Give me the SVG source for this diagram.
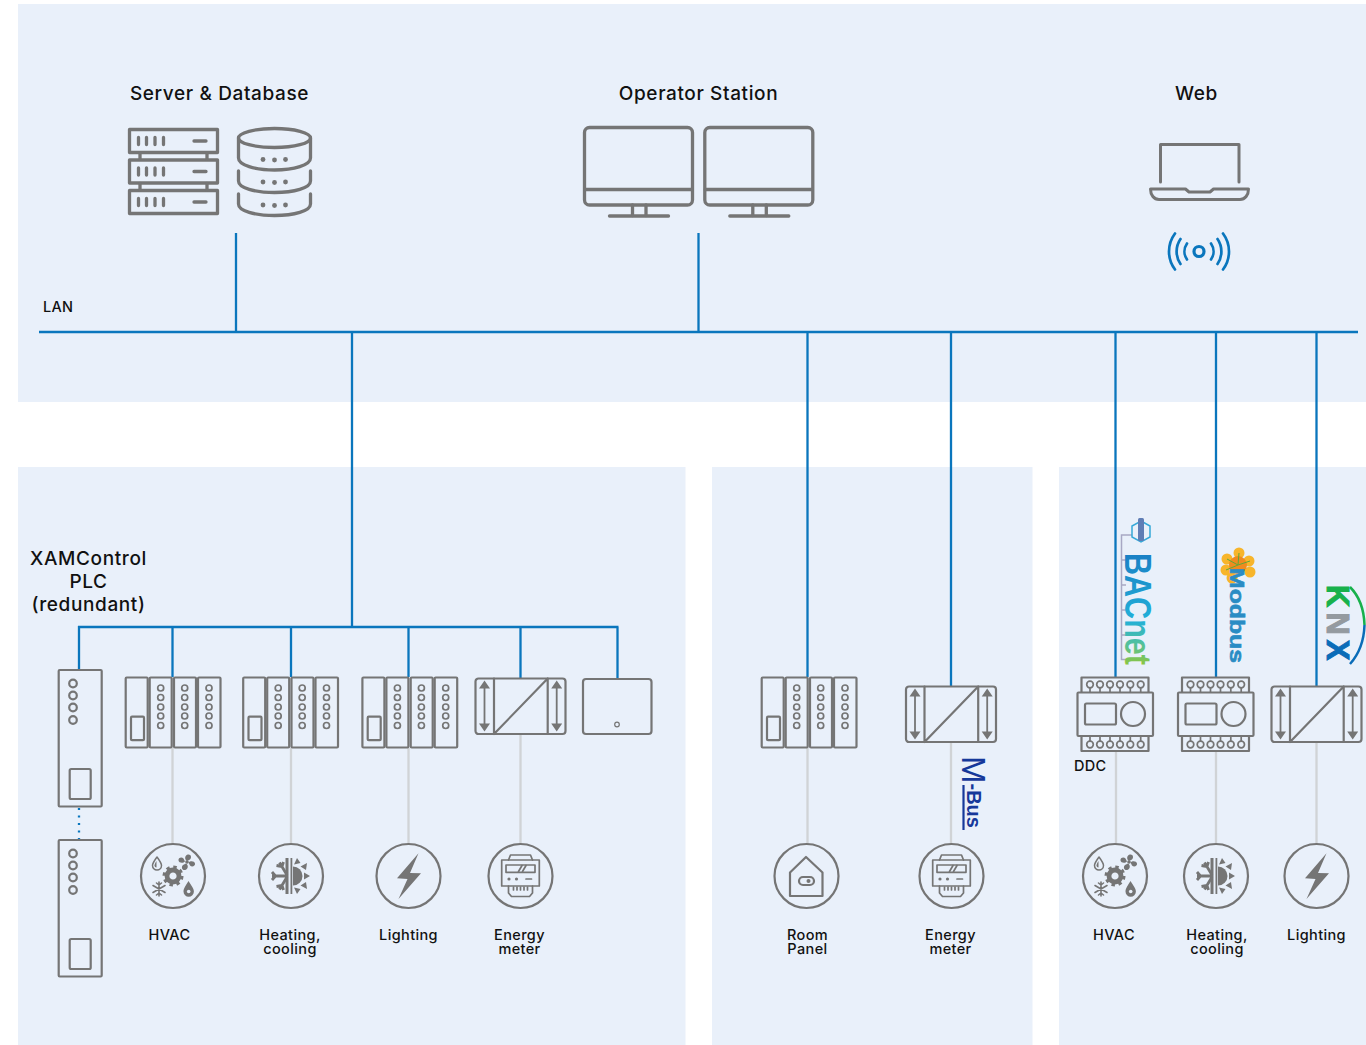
<svg xmlns="http://www.w3.org/2000/svg" width="1366" height="1045" viewBox="0 0 1366 1045">
<style>
.panel{fill:#e9f0fa}
.o{fill:none;stroke:#757575;stroke-width:2.200;stroke-linejoin:round;stroke-linecap:round}
.o3{fill:none;stroke:#757575;stroke-width:3.300;stroke-linejoin:round;stroke-linecap:round}
.f{fill:#757575;stroke:none}
.bus{fill:none;stroke:#0a76bd;stroke-width:2.300}
.field{fill:none;stroke:#d0d3d6;stroke-width:2.300}
.t{font-family:Inter,"Liberation Sans",sans-serif;font-weight:500;fill:#111}
.h{font-size:19px;text-anchor:middle;letter-spacing:.62px}
.l{font-size:14.500px;text-anchor:middle;letter-spacing:.38px}
.logo{font-family:"Liberation Sans",Arial,sans-serif;font-weight:700}
</style>
<defs>
<linearGradient id="bac" gradientUnits="userSpaceOnUse" x1="0" y1="0" x2="112" y2="0"><stop offset="0" stop-color="#1a7fc4"/><stop offset=".6" stop-color="#22b0d8"/><stop offset=".8" stop-color="#50c0a0"/><stop offset="1" stop-color="#8cc63f"/></linearGradient>
<g id="rack">
<rect class="o" x="0.700" y="0.500" width="22" height="70" rx="1"/><rect class="o" x="24.700" y="0.500" width="22" height="70" rx="1"/><rect class="o" x="49" y="0.500" width="22" height="70" rx="1"/><rect class="o" x="73" y="0.500" width="22.500" height="70" rx="1"/>
<rect class="o" x="6" y="39.700" width="13" height="23.500" rx="1"/>
<g class="o" style="stroke-width:1.700"><circle cx="35.700" cy="11" r="3"/><circle cx="35.700" cy="20.500" r="3"/><circle cx="35.700" cy="30" r="3"/><circle cx="35.700" cy="39" r="3"/><circle cx="35.700" cy="48.500" r="3"/><circle cx="59.700" cy="11" r="3"/><circle cx="59.700" cy="20.500" r="3"/><circle cx="59.700" cy="30" r="3"/><circle cx="59.700" cy="39" r="3"/><circle cx="59.700" cy="48.500" r="3"/><circle cx="84" cy="11" r="3"/><circle cx="84" cy="20.500" r="3"/><circle cx="84" cy="30" r="3"/><circle cx="84" cy="39" r="3"/><circle cx="84" cy="48.500" r="3"/></g>
</g>
<g id="conv">
<rect class="o" x="0.500" y="0.500" width="90" height="55.500" rx="3"/>
<path class="o" d="M19 .5V56M72.700 .5V56M19 56L72.700 .5"/>
<path class="o" style="stroke-width:1.800" d="M9.500 6V50M81.700 6V50"/>
<path class="f" d="M9.500 2.500l-5.500 8h11zM9.500 53.500l-5.500-8h11zM81.700 2.500l-5.500 8h11zM81.700 53.500l-5.500-8h11z"/>
</g>
<g id="plc">
<rect class="o" x="0" y="0" width="43" height="136.500" rx="1"/>
<rect class="o" x="11" y="99" width="21" height="30" rx="1.500"/>
<g class="o"><circle cx="14.300" cy="13.500" r="3.800"/><circle cx="14.300" cy="25.500" r="3.800"/><circle cx="14.300" cy="37.500" r="3.800"/><circle cx="14.300" cy="50" r="3.800"/></g>
</g>
<g id="ddc">
<path class="o" d="M1148.500 692V677.500H1081.500V692M1081.500 736V751H1148.500V736"/>
<rect class="o" x="1077.500" y="692.500" width="75.500" height="43.500" rx="1"/>
<rect class="o" x="1085" y="703.500" width="31" height="21" rx="1.500"/>
<circle class="o" cx="1133" cy="714" r="12"/>
<g class="o" style="stroke-width:1.700"><circle cx="1090" cy="684.500" r="3.300"/><circle cx="1100" cy="684.500" r="3.300"/><circle cx="1110" cy="684.500" r="3.300"/><circle cx="1120" cy="684.500" r="3.300"/><circle cx="1130.300" cy="684.500" r="3.300"/><circle cx="1140.700" cy="684.500" r="3.300"/><circle cx="1090" cy="744.500" r="3.300"/><circle cx="1100" cy="744.500" r="3.300"/><circle cx="1110" cy="744.500" r="3.300"/><circle cx="1120" cy="744.500" r="3.300"/><circle cx="1130.300" cy="744.500" r="3.300"/><circle cx="1140.700" cy="744.500" r="3.300"/><path d="M1090 688V692M1100 688V692M1110 688V692M1120 688V692M1130.300 688V692M1140.700 688V692M1090 736V741M1100 736V741M1110 736V741M1120 736V741M1130.300 736V741M1140.700 736V741"/></g>
</g>
<g id="monitor">
<rect class="o3" x="584.500" y="127.500" width="108" height="77.500" rx="5"/>
<path class="o3" d="M585 189.500H692M632.500 205V215.500M646 205V215.500"/>
<path class="o3" d="M609.500 216H668.500"/>
</g>
<g id="hvac">
<circle class="o" cx="0" cy="0" r="32"/>
<circle cx="0" cy="0" r="6" fill="none" stroke="#757575" stroke-width="4.800"/>
<circle cx="0" cy="0" r="9" fill="none" stroke="#757575" stroke-width="3" stroke-dasharray="3.400 3.670"/>
<path class="o" style="stroke-width:1.500" d="M-16-19c-3 4-4.500 6-4.500 8.500a4.500 4.500 0 0 0 9 0c0-2.500-1.500-4.500-4.500-8.500z"/>
<path class="f" d="M-16.500-15c-1.500 2-2 3.500-2 4.500a2 2 0 0 0 2 2z"/>
<circle class="f" cx="14" cy="-14" r="1.800"/>
<path class="f" d="M14-15c-3-2-2-6 1-6.500s4 3 2 5zM15.500-13.500c2-2 6-1.500 6.500 1s-3 4-5 2zM13-12.500c3 2 2 6-1 6.500s-4-3-2-5zM12-14.500c-2 2-6 1.500-6.500-1s3-4 5-2z"/>
<path class="o" style="stroke-width:1.600" d="M-14 6V20M-20 9.500L-8 16.500M-20 16.500L-8 9.500M-14 9l-2.500-2M-14 9l2.500-2M-14 17l-2.500 2M-14 17l2.500 2"/>
<path class="f" d="M15.500 5c-3 5-5 7.500-5 10.500a5.200 5.200 0 0 0 10.400 0c0-3-2.400-5.500-5.400-10.500z"/>
<circle cx="15.700" cy="15.500" r="1.800" fill="#e9f0fa"/>
</g>
<g id="heat">
<circle class="o" cx="0" cy="0" r="32"/>
<path class="f" d="M-5.500-18h3v36h-3zM-0.500-18h1.800v36h-1.800z"/>
<path class="o" style="stroke-width:2.800;stroke-linecap:butt" d="M-19 0H-4M-4-1L-11.500-13.500M-4 1L-11.500 13.500M-15.500 0l-3.500-4M-15.500 0l-3.500 4M-9-9.500l-5.500-1M-9-9.500l1.500-4.500M-9 9.500l-5.500 1M-9 9.500l1.500 4.500"/>
<path class="f" d="M2-9.500a9.500 9.500 0 0 1 0 19z"/>
<path class="f" d="M3-11.500l3-6.500 3.500 5zM9.500-9.500l6.500-3.500-1 7zM13-3.500l6 3.500-6 3.500zM15 6l1 7-6.500-3.500zM9.500 13l-3.500 5-3-6.500z"/>
</g>
<g id="bolt">
<circle class="o" cx="0" cy="0" r="32"/>
<path class="f" d="M10-22.700L-11.500 2.300L-1 3L-10 23L12.500-2.700L1.500-3z"/>
</g>
<g id="meter">
<circle class="o" cx="0" cy="0" r="32"/>
<g class="o" style="stroke-width:1.700">
<rect x="-18.800" y="-16" width="37.600" height="26"/>
<path d="M-12-16l2-5H10l2 5M-12 10v7l3 3.500H9l3-3.500v-7"/>
<rect x="-14.500" y="-11" width="29" height="7.300"/>
<path d="M-2-4.500l3.500-6M2-4.500l3.500-6M5.500 3H11"/>
<path d="M-7 11v3M-3.500 11v3M0 11v3M3.500 11v3M7 11v3"/>
</g>
<circle class="f" cx="-11.500" cy="3" r="1.600"/><circle class="f" cx="-4" cy="3" r="1.600"/>
</g>
</defs>

<rect class="panel" x="18" y="4" width="1348" height="398"/>
<rect class="panel" x="18" y="467" width="667.500" height="578"/>
<rect class="panel" x="712" y="467" width="320.500" height="578"/>
<rect class="panel" x="1059" y="467" width="307" height="578"/>

<g id="connectors">
<path class="field" d="M172.500 748V844M291 748V844M408.500 748V844M520.500 734V844M807.500 748V844M951 742V844M1116 751V844M1216 751V844M1316.500 742V844"/>
<path class="bus" d="M39 332H1358M236 233V332M698.500 233V332M352 332V627M807.500 332V677M951 332V686M1115.500 332V677M1216 332V677M1316.500 332V686M78 627H618.500M79 626V670M172.500 627V677M291 627V677M408.500 627V677M520.500 627V678M617.500 627V678"/>
<path class="bus" stroke-dasharray="2 5.500" d="M79 808V840"/>
</g>

<g id="lan-label"><text class="t" x="43" y="312" font-size="14.500" letter-spacing=".3">LAN</text></g>

<g id="server-db">
<text class="t h" x="219.500" y="100">Server &amp; Database</text>
<g class="o3">
<rect x="129.500" y="129.500" width="88" height="23"/><rect x="129.500" y="160" width="88" height="23"/><rect x="129.500" y="190.500" width="88" height="23"/>
<path d="M140 153V159M207 153V159M140 183.500V190M207 183.500V190"/>
<path d="M138.500 137.500V144.500M146.500 137.500V144.500M155 137.500V144.500M163.500 137.500V144.500M194 141H206"/>
<path d="M138.500 168V175M146.500 168V175M155 168V175M163.500 168V175M194 171.500H206"/>
<path d="M138.500 198.500V205.500M146.500 198.500V205.500M155 198.500V205.500M163.500 198.500V205.500M194 202H206"/>
<ellipse cx="274.500" cy="138" rx="36" ry="9.500"/>
<path d="M238.500 138V158C238.500 165 255 170 274.500 170S310.500 165 310.500 158V138"/>
<path d="M238.500 171V181C238.500 188 255 192.500 274.500 192.500S310.500 188 310.500 181V171"/>
<path d="M238.500 194V204C238.500 211 255 215.500 274.500 215.500S310.500 211 310.500 204V194"/>
</g>
<g class="f"><circle cx="263" cy="159.500" r="2.400"/><circle cx="274.500" cy="160" r="2.400"/><circle cx="285.500" cy="159.500" r="2.400"/><circle cx="263" cy="182" r="2.400"/><circle cx="274.500" cy="182.500" r="2.400"/><circle cx="285.500" cy="182" r="2.400"/><circle cx="263" cy="205" r="2.400"/><circle cx="274.500" cy="205.500" r="2.400"/><circle cx="285.500" cy="205" r="2.400"/></g>
</g>

<g id="operator-station">
<text class="t h" x="698.500" y="100">Operator Station</text>
<use href="#monitor"/><use href="#monitor" x="120.300"/>
</g>

<g id="web">
<text class="t h" x="1196.500" y="100">Web</text>
<path class="o3" style="stroke-width:3" d="M1160.500 182V144.500H1239V182"/>
<path class="o3" style="stroke-width:3" d="M1150.500 189H1185.500L1189 192H1210L1213.500 189H1248.500C1248.500 195 1245 199.500 1240 199.500H1159C1154 199.500 1150.500 195 1150.500 189Z"/>
<g fill="none" stroke="#0a76bd" stroke-width="2.700" stroke-linecap="round">
<circle cx="1199" cy="251.500" r="5" stroke-width="3.200"/>
<path d="M1187 243.500A14 14 0 0 0 1187 259.500M1211 243.500A14 14 0 0 1 1211 259.500M1180.500 239A22 22 0 0 0 1180.500 264M1217.500 239A22 22 0 0 1 1217.500 264M1175 233.500A30 30 0 0 0 1175 269.500M1223 233.500A30 30 0 0 1 1223 269.500"/>
</g>
</g>

<g id="plc-node">
<text class="t h" x="88.500" y="565">XAMControl<tspan x="88.500" dy="22.500">PLC</tspan><tspan x="88.500" dy="23">(redundant)</tspan></text>
<use href="#plc" x="58.700" y="670"/>
<use href="#plc" x="58.700" y="840"/>
</g>

<g id="hvac-rack"><use href="#rack" x="125" y="677"/></g>
<g id="heat-rack"><use href="#rack" x="242.500" y="677"/></g>
<g id="light-rack"><use href="#rack" x="361.700" y="677"/></g>
<g id="conv-1"><use href="#conv" x="475" y="678"/></g>
<g id="box-1"><rect class="o" x="583" y="679" width="68.500" height="55" rx="3"/><circle class="o" style="stroke-width:1.200" cx="617" cy="724.500" r="2.300"/></g>

<g id="hvac-1"><use href="#hvac" x="173" y="876"/><text class="t l" x="169.500" y="940">HVAC</text></g>
<g id="heat-1"><use href="#heat" x="291" y="876"/><text class="t l" x="290" y="940">Heating,<tspan x="290" dy="14">cooling</tspan></text></g>
<g id="light-1"><use href="#bolt" x="408.500" y="876"/><text class="t l" x="408.500" y="940">Lighting</text></g>
<g id="meter-1"><use href="#meter" x="520.500" y="876"/><text class="t l" x="519.500" y="940">Energy<tspan x="519.500" dy="14">meter</tspan></text></g>

<g id="room-rack"><use href="#rack" x="761" y="677"/></g>
<g id="conv-2"><use href="#conv" x="905.500" y="686"/></g>
<g id="mbus"><text class="logo" transform="translate(962 756) rotate(90)" fill="#16389a" font-size="33" style="font-weight:400">M<tspan dy="-5" font-size="20" style="font-weight:700">-Bus</tspan></text><path d="M963.500 785V830" stroke="#16389a" stroke-width="2.200" fill="none"/></g>
<g id="room-1"><circle class="o" cx="806.500" cy="876" r="32"/>
<path class="o" d="M806 857L790 872.500V896H822.500V872.500Z"/><rect class="o" x="799" y="877" width="15" height="8" rx="4"/><circle class="f" cx="808.500" cy="881" r="2"/>
<text class="t l" x="807.500" y="940">Room<tspan x="807.500" dy="14">Panel</tspan></text></g>
<g id="meter-2"><use href="#meter" x="951.500" y="876"/><text class="t l" x="950.500" y="940">Energy<tspan x="950.500" dy="14">meter</tspan></text></g>

<g id="ddc-1"><use href="#ddc"/><text class="t" x="1074" y="771" font-size="14.500" letter-spacing=".3">DDC</text></g>
<g id="ddc-2"><use href="#ddc" x="100.500"/></g>
<g id="conv-3"><use href="#conv" x="1271" y="686"/></g>

<g id="bacnet">
<path fill="none" stroke="#a8a8c4" stroke-width="1.500" d="M1133 535H1121.500V659.500H1133M1121.500 560H1126M1121.500 585H1126M1121.500 610H1126M1121.500 635H1126"/>
<path fill="#e9f0fa" stroke="#35a8d8" stroke-width="1.500" d="M1141 521L1150 526V537L1141 542L1132 537V526Z"/>
<rect x="1138" y="518" width="6" height="23" rx="1.500" fill="#5f7db5"/>
<text class="logo" transform="translate(1125 553) rotate(90)" font-size="36" textLength="112" lengthAdjust="spacingAndGlyphs" fill="url(#bac)">BACnet</text>
</g>
<g id="modbus">
<g fill="#f7b52b"><circle cx="1239" cy="553" r="5.500"/><circle cx="1249" cy="561" r="5.500"/><circle cx="1227" cy="559" r="5.500"/><circle cx="1226" cy="570" r="5.500"/><circle cx="1250" cy="572" r="5.500"/><circle cx="1232" cy="578" r="5.500"/></g>
<circle cx="1238" cy="565" r="9" fill="#ef8b1f"/>
<path fill="none" stroke="#5fa83a" stroke-width="1" d="M1238 565L1239 553M1238 565L1250 561M1238 565L1227 559M1238 565L1226 570"/>
<text class="logo" transform="translate(1230 568) rotate(90)" font-size="21" textLength="95" lengthAdjust="spacingAndGlyphs" fill="#2a8cc4" stroke="#2a8cc4" stroke-width=".6">Modbus</text>
</g>
<g id="knx">
<text class="logo" transform="translate(1327 585) rotate(90)" font-size="31" letter-spacing="5" stroke-width="1"><tspan fill="#17b14b" stroke="#17b14b">K</tspan><tspan fill="#949aa0" stroke="#949aa0">N</tspan><tspan fill="#0a6cb8" stroke="#0a6cb8">X</tspan></text>
<path fill="none" stroke="#17b14b" stroke-width="2.500" d="M1350 587C1359 596 1364 610 1364.500 625"/>
<path fill="none" stroke="#0a6cb8" stroke-width="2.500" d="M1364.500 625C1364 640 1359 654 1350 664"/>
</g>

<g id="hvac-2"><use href="#hvac" x="1115" y="876"/><text class="t l" x="1114" y="940">HVAC</text></g>
<g id="heat-2"><use href="#heat" x="1216" y="876"/><text class="t l" x="1217" y="940">Heating,<tspan x="1217" dy="14">cooling</tspan></text></g>
<g id="light-2"><use href="#bolt" x="1316.500" y="876"/><text class="t l" x="1316.500" y="940">Lighting</text></g>
</svg>
